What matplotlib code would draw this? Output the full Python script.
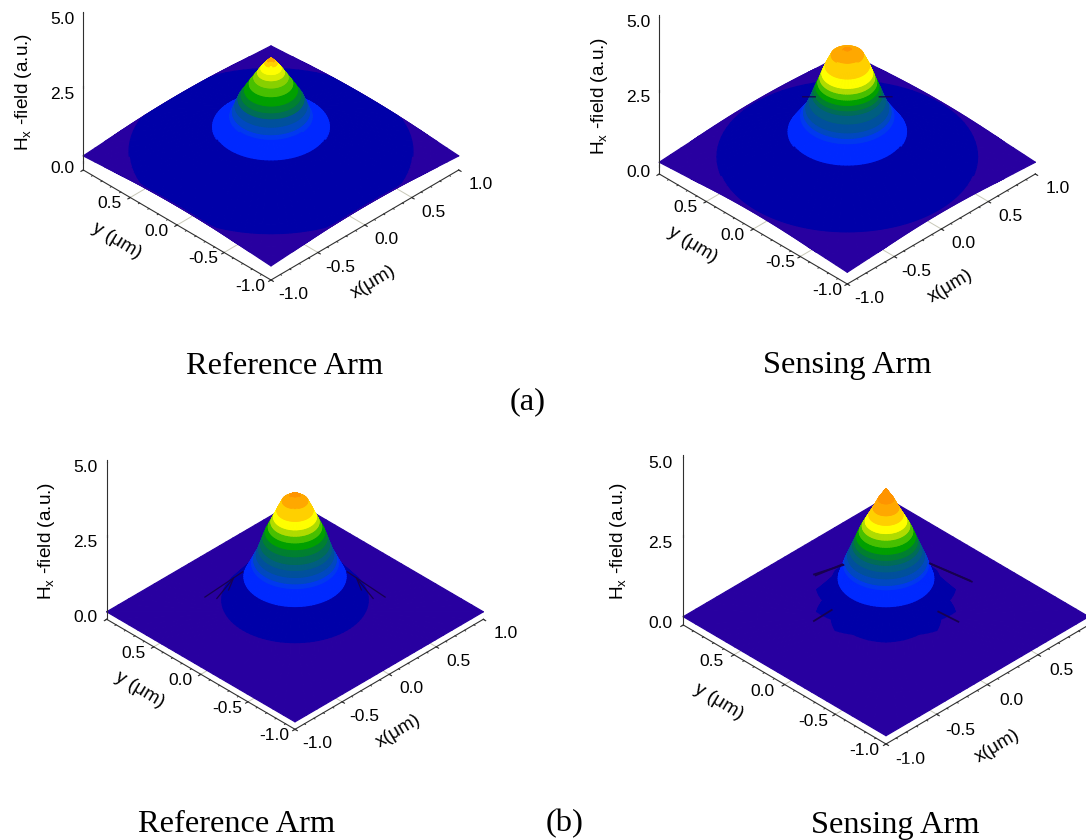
#Imports
import numpy as np
import matplotlib
matplotlib.use("Agg")
import matplotlib.pyplot as plt
from matplotlib.patches import Rectangle
from mpl_toolkits.mplot3d import proj3d

plt.rcParams['font.family'] = ['Liberation Sans', 'DejaVu Sans']
plt.rcParams['mathtext.fontset'] = 'custom'
plt.rcParams['mathtext.rm'] = 'Liberation Sans'

W, H = 1086, 840

#Contour colours, lowest level first
band_colors = ['#2800A0', '#0000A8', '#0028FF', '#0038F0', '#0048C0', '#00509C',
               '#005E80', '#006C58', '#008030', '#00A000', '#18B400', '#48C000',
               '#88D000', '#B0DC00', '#D8EC00', '#FFFF00', '#FFD000', '#FFA800', '#FF9400']

#Radial profile: radius, field, colour of the band outside each radius
r_ref_a = [0, .022, .044, .075, .10, .128, .163, .198, .224, .247, .27, .29, .31, .44, .95, 1.07, 1.2, 1.3, 1.42]
h_ref_a = [3.51, 3.41, 3.32, 3.15, 3.01, 2.84, 2.64, 2.42, 2.26, 2.12, 1.9, 1.7, 1.55, 1.2, .42, .37, .31, .27, .23]
c_ref_a = [17, 16, 15, 14, 12, 11, 9, 8, 7, 5, 4, 3, 2, 1, 1, 0, 0, 0]

r_sen_a = [0, .03, .12, .165, .19, .205, .22, .235, .25, .262, .285, .31, .328, .35, .445, .98, 1.2, 1.42]
h_sen_a = [3.9, 3.89, 3.72, 3.36, 3.11, 2.96, 2.8, 2.66, 2.52, 2.4, 2.17, 1.94, 1.8, 1.68, 1.17, .33, .22, .15]
c_sen_a = [18, 17, 16, 15, 13, 11, 9, 8, 7, 6, 5, 4, 3, 2, 1, 0, 0]

r_ref_b = [0, .035, .095, .135, .16, .18, .2, .222, .24, .258, .273, .29, .31, .325, .383, .55, .56, .9, 1.42]
h_ref_b = [3.97, 3.87, 3.69, 3.37, 3.15, 2.99, 2.82, 2.65, 2.46, 2.25, 2.09, 1.9, 1.74, 1.62, 1.17, .4, 0, 0, 0]
c_ref_b = [18, 17, 16, 15, 13, 11, 9, 8, 7, 6, 5, 4, 3, 2, 1, 0, 0, 0]

r_sen_b = [0, .053, .088, .118, .144, .165, .186, .204, .219, .232, .249, .267, .285, .295, .333, .49, .5, .9, 1.42]
h_sen_b = [3.99, 3.67, 3.39, 3.17, 2.98, 2.83, 2.66, 2.49, 2.34, 2.22, 2.06, 1.89, 1.73, 1.62, 1.19, .5, 0, 0, 0]
c_sen_b = [18, 17, 16, 15, 13, 11, 9, 8, 7, 6, 5, 4, 3, 2, 1, 0, 0, 0]

#Broken outer contour of the sensing arm in (b), radius every 15 degrees
jag_angle = np.arange(0, 361, 15)
jag_r = [.50, .44, .46, .46, .46, .44, .50, .44, .50, .44, .50, .44, .50,
         .46, .48, .49, .48, .46, .50, .44, .50, .44, .50, .44, .50]

#Dark mesh artefacts beside the peak: x0, y0, x1, y1 at the given field
spikes_sen_a = [(-.01, .465, .057, .397), (.465, -.01, .397, .057)]
spikes_ref_b = [(-.051, .505, -.481, .476), (-.16, .495, -.43, .40), (-.16, .495, -.29, .415),
                (.505, -.051, .476, -.481), (.495, -.16, .40, -.43), (.495, -.16, .415, -.29)]
spikes_sen_b = [(-.134, .576, .09, .51), (.583, -.263, .53, .097), (-.526, .185, -.346, .19),
                (.18, -.534, .166, -.35), (-.134, .56, .09, .52), (.583, -.245, .53, .09)]

z_ticks = [0.0, 2.5, 5.0]
xy_ticks = [-1.0, -0.5, 0.0, 0.5, 1.0]
minor_ticks = np.arange(-1.0, 1.01, 0.1)


def to_pixels(ax, x, y, z):
    ax.apply_aspect()
    X, Y, _ = proj3d.proj_transform(x, y, z, ax.get_proj())
    return ax.transData.transform((X, Y))


def make_axes(fig, left, half_w, half_h, z_px, floor):
    '''
        Make one ortho 3D axes so that the floor of the box lands on the wanted pixels

        left: pixel of the left floor corner (from the top left of the image)
        half_w, half_h: half size of the floor diamond in pixels
        z_px: pixels per unit of field
        floor: field value at the floor
    '''
    elev = np.degrees(np.arcsin(half_h / half_w))
    size = 700.0
    ax = fig.add_axes([0.1, 0.1, size / W, size / H], projection='3d', proj_type='ortho')
    ax.patch.set_visible(False)
    ax.set_axis_off()
    ax.computed_zorder = False
    ax.set_xlim(-1, 1)
    ax.set_ylim(-1, 1)
    ax.set_zlim(floor, 5)
    ax.view_init(elev=elev, azim=-135)
    side = half_w * np.sqrt(2)
    ax.set_box_aspect((1, 1, (5 - floor) * z_px / (np.cos(np.radians(elev)) * side)))

    #Scale then shift, the box is linear in the axes rectangle
    a = to_pixels(ax, -1, 1, floor)
    b = to_pixels(ax, 1, -1, floor)
    size = size * 2 * half_w / (b[0] - a[0])
    ax.set_position([0.1, 0.1, size / W, size / H])
    a = to_pixels(ax, -1, 1, floor)
    l0 = 0.1 * W + left[0] - a[0]
    b0 = 0.1 * H + (H - left[1]) - a[1]
    ax.set_position([l0 / W, b0 / H, size / W, size / H])
    return ax


def put_text(fig, ax, x, y, z, s, rotation=0, size=12.5):
    #Figure text at the projected point, so the text keeps its rotation and real extent
    p = to_pixels(ax, x, y, z)
    fig.text(p[0] / W, p[1] / H, s, fontsize=size, rotation=rotation, ha='center', va='center',
             rotation_mode='anchor')


def draw_box(fig, ax, floor, x_labels=xy_ticks):
    col = '#303030'
    lw = 0.8
    #Pale grid on the floor, mostly hidden by the surface
    for t in xy_ticks[1:-1]:
        ax.plot([t, t], [-1, 1], [floor, floor], color='#C8C8B8', lw=0.7, zorder=1)
        ax.plot([-1, 1], [t, t], [floor, floor], color='#C8C8B8', lw=0.7, zorder=1)

    ax.plot([-1, -1], [1, -1], [floor, floor], color=col, lw=lw, zorder=4)
    ax.plot([-1, 1], [-1, -1], [floor, floor], color=col, lw=lw, zorder=4)
    ax.plot([-1, -1], [1, 1], [floor, 5], color=col, lw=lw, zorder=4)

    for t in minor_ticks:
        ax.plot([t, t], [-1, -1.012], [floor, floor], color=col, lw=0.7, zorder=4)
        ax.plot([-1, -1.012], [t, t], [floor, floor], color=col, lw=0.7, zorder=4)
    for t in xy_ticks:
        ax.plot([t, t], [-1, -1.025], [floor, floor], color=col, lw=0.8, zorder=4)
        ax.plot([-1, -1.025], [t, t], [floor, floor], color=col, lw=0.8, zorder=4)
    for t in z_ticks:
        ax.plot([-1, -.985], [1, 1.015], [t, t], color=col, lw=0.8, zorder=4)
        put_text(fig, ax, -1.112, 1.112, t - 0.2, '%.1f' % t)

    for t in x_labels:
        put_text(fig, ax, t - .015, -1.25, floor, '%.1f' % t)
    for t in xy_ticks[:-1]:
        put_text(fig, ax, -1.167, t + .05, floor, '%.1f' % t)

    put_text(fig, ax, -1.319, 1.319, 2.36, r'H$_{\mathrm{x}}$ -field (a.u.)', rotation=90, size=13.7)
    put_text(fig, ax, -1.467, .18, floor, 'y (\u03bcm)', rotation=-31, size=13.7)
    put_text(fig, ax, -.468, -1.563, floor, 'x(\u03bcm)', rotation=31, size=13.7)


def draw_surface(ax, radius, field, colors, outer_jag=None):
    theta = np.radians(np.arange(0, 361, 3.75))
    #Distance from the centre to the edge of the square at each angle
    edge = 1 / np.maximum(np.abs(np.cos(theta)), np.abs(np.sin(theta)))

    rows = np.outer(radius, np.ones(len(theta)))
    if outer_jag is not None:
        k = colors.index(1)
        rows[k + 1] = np.interp(np.degrees(theta), jag_angle, jag_r)
        rows[k + 2] = rows[k + 1] + 0.01
    rows = np.minimum(rows, edge)

    zz = np.outer(field, np.ones(len(theta)))
    if outer_jag is None:
        zz = np.interp(rows, radius, field)
    xx = rows * np.cos(theta)
    yy = rows * np.sin(theta)

    face = np.empty((len(radius) - 1, len(theta) - 1), dtype=object)
    for i in range(len(radius) - 1):
        for j in range(len(theta) - 1):
            face[i, j] = band_colors[colors[i]]
    surf = ax.plot_surface(xx, yy, zz, facecolors=face, rstride=1, cstride=1, shade=False,
                           linewidth=0.9, antialiased=True, zorder=3)
    return surf


def draw_spikes(ax, spikes, level, lw=0.9):
    for x0, y0, x1, y1 in spikes:
        ax.plot([x0, x1], [y0, y1], [level, level], color='#180050', lw=lw, zorder=5)


def main():
    fig = plt.figure(figsize=(W / 100, H / 100), dpi=100)

    ax = make_axes(fig, (83.3, 170), 187.7, 110, 29.9, -0.24)
    draw_box(fig, ax, -0.24)
    draw_surface(ax, r_ref_a, h_ref_a, c_ref_a)

    ax = make_axes(fig, (659.3, 174), 188, 110, 30, -0.24)
    draw_box(fig, ax, -0.24)
    draw_surface(ax, r_sen_a, h_sen_a, c_sen_a)
    draw_spikes(ax, spikes_sen_a, 1.5)

    ax = make_axes(fig, (106.7, 619.3), 188.3, 110, 30, -0.25)
    draw_box(fig, ax, -0.25)
    draw_surface(ax, r_ref_b, h_ref_b, c_ref_b)
    draw_spikes(ax, spikes_ref_b, 0.5)

    ax = make_axes(fig, (683.3, 625), 202.7, 119, 32, -0.26)
    draw_box(fig, ax, -0.26, x_labels=xy_ticks[:-1])
    draw_surface(ax, r_sen_b, h_sen_b, c_sen_b, outer_jag=True)
    draw_spikes(ax, spikes_sen_b, 0.5, lw=1.3)

    #The lower right picture is cut off at its bottom edge in the source
    fig.add_artist(Rectangle((590 / W, (H - 795) / H), 496 / W, 31 / H, color='white',
                             transform=fig.transFigure, zorder=10))

    serif = ['Liberation Serif', 'DejaVu Serif']
    captions = [('Reference Arm', 285, 366), ('Sensing Arm', 847, 366), ('(a)', 528, 402),
                ('Reference Arm', 237, 825), ('(b)', 565, 824), ('Sensing Arm', 895, 825)]
    for text, x, y in captions:
        fig.text(x / W, 1 - y / H, text, family=serif, fontsize=23.4, ha='center', va='center',
                 zorder=11)

    fig.savefig('out.png', dpi=100)


if __name__ == '__main__':
    main()
